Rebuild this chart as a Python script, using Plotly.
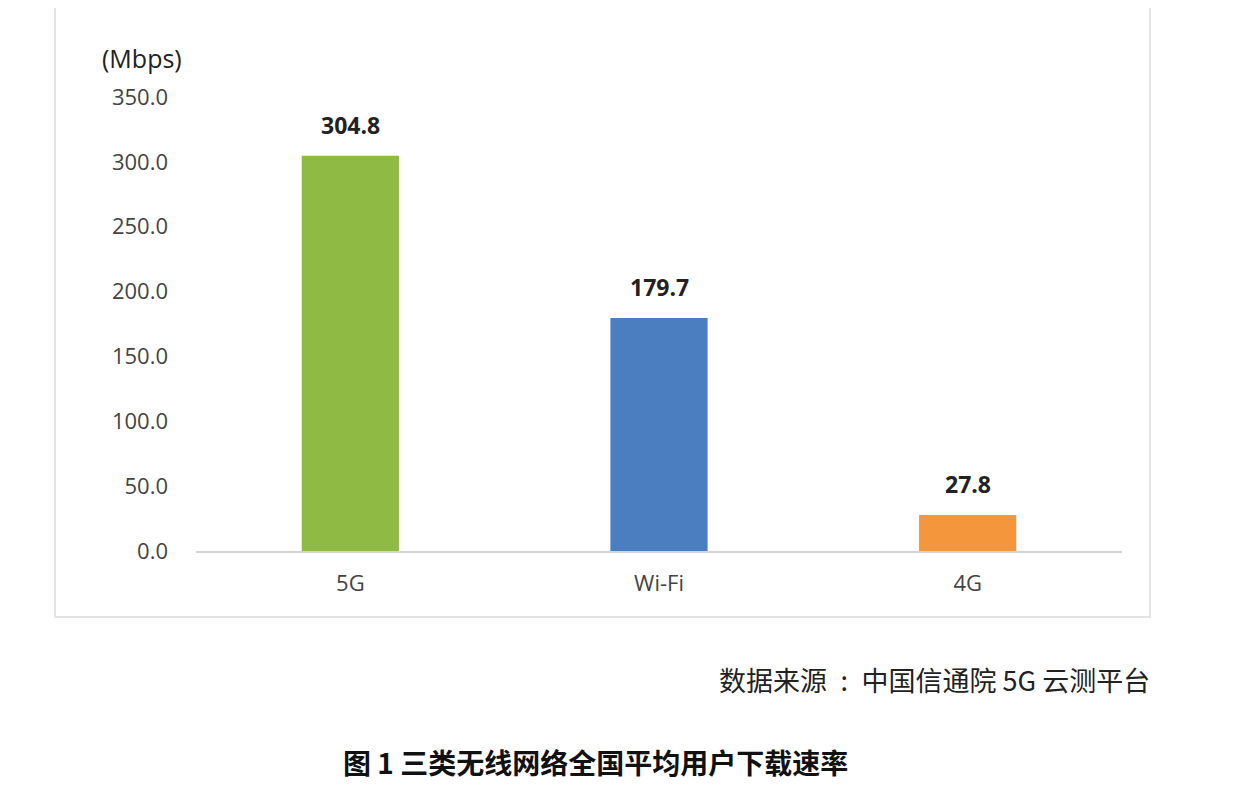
import plotly.graph_objects as go

categories = ["5G", "Wi-Fi", "4G"]
values = [304.8, 179.7, 27.8]
colors = ["#8FBB45", "#4A7EC0", "#F3963C"]
tick_vals = [0, 50, 100, 150, 200, 250, 300, 350]
tick_text = [f"{v:.1f}" for v in tick_vals]
labels = [f"<b>{v:.1f}</b>" for v in values]

fig = go.Figure()
fig.add_trace(go.Bar(
    x=categories, y=values, marker=dict(color=colors, line=dict(width=0)),
    width=0.315, hoverinfo="x+y",
))

for c, v, t in zip(categories, values, labels):
    fig.add_annotation(x=c, y=v, text=t, showarrow=False, yanchor="middle", yshift=31,
                       font=dict(family="Open Sans, Noto Sans", size=23, color="#222222"))

# page body has an 8px margin; plot area placed to match reference pixels
fig.update_layout(
    width=1250, height=779,
    margin=dict(l=188, r=136, t=89, b=236),
    paper_bgcolor="white", plot_bgcolor="white",
    showlegend=False,
    font=dict(family="Open Sans, Noto Sans", color="#444444"),
    xaxis=dict(showgrid=False, showline=True, linecolor="#D4D4D4", linewidth=1.5,
               ticks="", tickfont=dict(size=22, color="#444444"), ticklabelstandoff=12),
    yaxis=dict(range=[0, 350], tickvals=tick_vals, ticktext=tick_text, showgrid=False,
               zeroline=False, showline=False, ticks="", tickfont=dict(size=22, color="#444444"),
               ticklabelstandoff=27),
)

# box border
fig.add_shape(type="rect", xref="paper", yref="paper",
              x0=(55-196)/926, x1=(1150-196)/926, y0=(551-617)/454, y1=(551+120)/454,
              line=dict(color="#DCDCDC", width=1.5), layer="below")

fig.add_annotation(text="(Mbps)", xref="paper", yref="paper", x=(184-196)/926, y=(551-58)/454,
                   xanchor="right", yanchor="middle", showarrow=False,
                   font=dict(family="Open Sans, Noto Sans", size=25, color="#222222"))
fig.add_annotation(text="数据来源\u2002:\u2002中国信通院 5G 云测平台", xref="paper", yref="paper",
                   x=(1152-196)/926, y=(551-679)/454, xanchor="right", yanchor="middle",
                   showarrow=False,
                   font=dict(family="Noto Sans CJK SC", size=27, color="#222222"))
fig.add_annotation(text="<b>图 1 三类无线网络全国平均用户下载速率</b>", xref="paper", yref="paper",
                   x=(595-196)/926, y=(551-762)/454, xanchor="center", yanchor="middle",
                   showarrow=False,
                   font=dict(family="Noto Sans CJK SC", size=28, color="#111111"))

fig.write_html("out.html")
